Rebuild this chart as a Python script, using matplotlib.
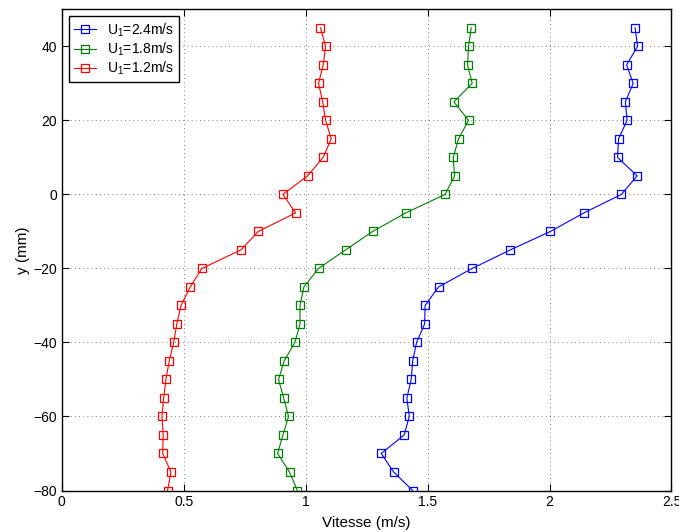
import numpy as np
import matplotlib
matplotlib.use('Agg')
import matplotlib.pyplot as plt
from matplotlib.ticker import MultipleLocator

# positions (mm)
y_mm = [45, 40, 35, 30, 25, 20, 15, 10, 5, 0, -5, -10, -15, -20, -25,
        -30, -35, -40, -45, -50, -55, -60, -65, -70, -75, -80]

# velocity profiles (m/s)
u_24 = [2.351, 2.361, 2.316, 2.343, 2.311, 2.318, 2.283, 2.279, 2.359, 2.295,
        2.141, 2.004, 1.839, 1.683, 1.545, 1.490, 1.488, 1.455, 1.439, 1.433,
        1.415, 1.425, 1.404, 1.310, 1.361, 1.439]
u_18 = [1.679, 1.668, 1.664, 1.683, 1.608, 1.668, 1.627, 1.605, 1.611, 1.572,
        1.411, 1.275, 1.164, 1.053, 0.993, 0.977, 0.977, 0.956, 0.912, 0.889,
        0.910, 0.930, 0.907, 0.885, 0.934, 0.966]
u_12 = [1.061, 1.082, 1.072, 1.053, 1.070, 1.082, 1.105, 1.072, 1.008, 0.907,
        0.959, 0.806, 0.735, 0.575, 0.527, 0.489, 0.472, 0.459, 0.441, 0.427,
        0.418, 0.411, 0.416, 0.414, 0.448, 0.434]

labels = [r'U$_1$=2.4m/s', r'U$_1$=1.8m/s', r'U$_1$=1.2m/s']
colors = ['#0000ff', '#008000', '#ff0000']

plt.rcParams['font.family'] = ['Liberation Sans', 'DejaVu Sans']
plt.rcParams['font.size'] = 10
plt.rcParams['mathtext.default'] = 'regular'

fig = plt.figure(figsize=(6.79, 5.32), dpi=100)
ax = fig.add_axes([0.0909, 0.078, 0.898, 0.9045])

for u, lab, c in zip([u_24, u_18, u_12], labels, colors):
    ax.plot(u, y_mm, '-s', color=c, lw=0.8, ms=6, mfc='none', mew=0.9, label=lab)

ax.set_xlim(0, 2.5)
ax.set_ylim(-80, 50)
ax.yaxis.set_major_locator(MultipleLocator(20))
ax.set_xticks([0, 0.5, 1, 1.5, 2, 2.5])
ax.set_xticklabels(['0', '0.5', '1', '1.5', '2', '2.5'])

ax.grid(True, linestyle=(0, (1, 4)), color='#555555', lw=0.6)
ax.tick_params(direction='in', top=True, right=True, length=5, width=0.8)
for s in ax.spines.values():
    s.set_linewidth(1.0)

ax.set_xlabel('Vitesse (m/s)', fontsize=11, labelpad=5)
ax.set_ylabel('y (mm)', fontsize=11, labelpad=2)

leg = ax.legend(loc='upper left', fancybox=False, framealpha=1, edgecolor='black',
                fontsize=10, handlelength=1.6, borderpad=0.35, labelspacing=0.15,
                handletextpad=0.8, borderaxespad=0.5)
leg.get_frame().set_linewidth(1.0)

fig.savefig('out.png', dpi=100)
